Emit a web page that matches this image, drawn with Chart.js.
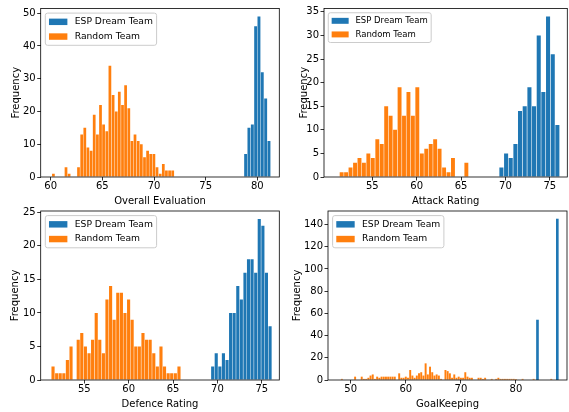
<!DOCTYPE html>
<html>
<head>
<meta charset="utf-8">
<script src="https://cdn.jsdelivr.net/npm/chart.js@4"></script>
<style>
html, body { margin: 0; padding: 0; background: #fff; width: 569px; height: 412px; overflow: hidden; }
body { position: relative; }
canvas { position: absolute; }
</style>
</head>
<body>
<canvas id="c1" width="285" height="206" style="left:0px;top:0px"></canvas>
<canvas id="c2" width="285" height="206" style="left:284px;top:0px"></canvas>
<canvas id="c3" width="285" height="208" style="left:0px;top:204px"></canvas>
<canvas id="c4" width="285" height="208" style="left:284px;top:204px"></canvas>
<script>
// ---------------- DATA ----------------
const seriesLabels = ['ESP Dream Team', 'Random Team'];

// Overall Evaluation
const overallRandomBins = [60.26, 61.48, 61.78, 62.69, 63.0, 63.3, 63.6, 63.91, 64.21, 64.52, 64.82, 65.12, 65.43, 65.73, 66.04, 66.34, 66.64, 66.95, 67.25, 67.56, 67.86, 68.16, 68.47, 68.77, 69.08, 69.38, 69.68, 69.99, 70.29, 70.6, 70.9, 71.2, 71.51, 71.81];
const overallRandomCounts = [1, 3, 1, 3, 13, 15, 9, 8, 19, 13, 22, 16, 14, 34, 25, 20, 26, 22, 28, 21, 11, 13, 11, 10, 6, 8, 7, 7, 3, 1, 4, 2, 2, 2];
const overallDreamBins = [78.87, 79.19, 79.52, 79.84, 80.16, 80.48, 80.81, 81.13];
const overallDreamCounts = [7, 15, 16, 46, 49, 32, 24, 11];
const overallXTicks = [60, 65, 70, 75, 80];
const overallYTicks = [0, 10, 20, 30, 40, 50];

// Attack Rating
const attackRandomBins = [51.54, 52.04, 52.54, 53.05, 53.55, 54.05, 54.55, 55.05, 55.56, 56.06, 56.56, 57.06, 57.56, 58.07, 58.57, 59.07, 59.57, 60.07, 60.58, 61.08, 61.58, 62.08, 62.58, 63.09, 63.59, 64.09, 65.6];
const attackRandomCounts = [1, 1, 2, 3, 4, 3, 5, 4, 8, 7, 15, 13, 10, 19, 13, 18, 13, 19, 5, 6, 7, 8, 6, 2, 1, 4, 3];
const attackDreamBins = [69.55, 70.08, 70.6, 71.13, 71.65, 72.18, 72.71, 73.23, 73.76, 74.28, 74.81, 75.34, 75.86];
const attackDreamCounts = [2, 5, 4, 7, 14, 15, 19, 15, 30, 18, 34, 26, 11];
const attackXTicks = [55, 60, 65, 70, 75];
const attackYTicks = [0, 5, 10, 15, 20, 25, 30, 35];

// Defence Rating
const defenceRandomBins = [51.47, 51.88, 52.28, 52.69, 53.09, 53.5, 54.31, 54.71, 55.12, 55.53, 55.93, 56.34, 56.74, 57.15, 57.55, 57.96, 58.36, 58.77, 59.18, 59.58, 59.99, 60.39, 60.8, 61.2, 61.61, 62.01, 62.42, 62.83, 63.23, 63.64, 64.04, 64.45, 64.85, 65.26, 65.67];
const defenceRandomCounts = [2, 1, 1, 1, 3, 5, 6, 7, 5, 4, 6, 10, 6, 4, 12, 14, 9, 13, 13, 10, 12, 9, 5, 5, 7, 6, 6, 4, 2, 5, 2, 1, 1, 1, 2];
const defenceDreamBins = [69.47, 69.87, 70.28, 70.68, 71.09, 71.49, 71.89, 72.3, 72.7, 73.11, 73.51, 73.91, 74.32, 74.72, 75.13, 75.53, 75.94];
const defenceDreamCounts = [2, 4, 2, 4, 3, 10, 10, 14, 12, 16, 18, 18, 16, 24, 23, 16, 8];
const defenceXTicks = [55, 60, 65, 70, 75];
const defenceYTicks = [0, 5, 10, 15, 20, 25];

// GoalKeeping
const gkRandomBins = [48.4, 50.8, 52.0, 52.4, 52.8, 53.2, 53.6, 54.0, 54.4, 54.8, 55.2, 55.6, 56.0, 56.4, 56.8, 57.2, 57.6, 58.0, 58.8, 59.2, 59.6, 60.0, 60.4, 60.8, 61.2, 61.6, 62.0, 62.4, 62.8, 63.2, 63.6, 64.0, 64.4, 64.8, 65.2, 65.6, 66.0, 66.4, 67.2, 67.6, 68.0, 68.4, 68.8, 69.2, 69.6, 70.0, 70.4, 70.8, 71.2, 71.6, 72.0, 73.2, 73.6, 74.0, 74.4, 75.6, 76.4, 76.8, 77.2, 77.6, 78.0, 78.4, 78.8, 79.2, 79.6, 80.0, 81.2, 83.2, 86.4];
const gkRandomCounts = [1, 3, 3, 1, 1, 2, 4, 5, 1, 3, 2, 3, 3, 3, 3, 3, 3, 3, 6, 2, 2, 3, 2, 9, 4, 2, 4, 6, 7, 4, 15, 5, 12, 7, 4, 5, 4, 1, 9, 8, 6, 2, 5, 2, 3, 2, 2, 7, 3, 2, 2, 2, 2, 1, 2, 1, 1, 2, 1, 1, 1, 1, 1, 1, 1, 1, 1, 1, 1];
const gkDreamBins = [83.9, 87.5];
const gkDreamCounts = [54, 145];
const gkXTicks = [50, 60, 70, 80];
const gkYTicks = [0, 20, 40, 60, 80, 100, 120, 140];

// ---------------- RENDERING ----------------
Chart.defaults.font.family = "'DejaVu Sans', sans-serif";
Chart.defaults.color = '#000';
const BLUE = '#1f77b4';
const ORANGE = '#ff7f0e';

const framePlugin = {
  id: 'frame',
  afterDatasetsDraw(chart) {
    const ctx = chart.ctx, a = chart.chartArea;
    ctx.save();
    ctx.strokeStyle = '#000';
    ctx.lineWidth = 0.8;
    ctx.strokeRect(a.left, a.top, a.right - a.left, a.bottom - a.top);
    ctx.restore();
  }
};

const legendPlugin = {
  id: 'mplLegend',
  afterDatasetsDraw(chart, args, opts) {
    const f = opts.fontSize || 9.2;
    const ctx = chart.ctx, a = chart.chartArea;
    const items = chart.data.datasets.map(d => ({ label: d.label, color: d.backgroundColor }));
    ctx.save();
    ctx.font = f + "px 'DejaVu Sans'";
    const tw = Math.max(...items.map(it => ctx.measureText(it.label).width));
    const pad = 0.4 * f, hl = 2 * f, hh = 0.7 * f, htp = 0.8 * f, rowH = 1.1 * f, ls = 0.5 * f;
    const bx = a.left + 0.5 * f, by = a.top + 0.5 * f;
    const bw = 2 * pad + hl + htp + tw;
    const bh = 2 * pad + items.length * rowH + (items.length - 1) * ls;
    ctx.beginPath();
    if (ctx.roundRect) ctx.roundRect(bx, by, bw, bh, 0.25 * f); else ctx.rect(bx, by, bw, bh);
    ctx.fillStyle = 'rgba(255,255,255,0.8)';
    ctx.fill();
    ctx.strokeStyle = '#cccccc';
    ctx.lineWidth = 1;
    ctx.stroke();
    items.forEach((it, i) => {
      const cy = by + pad + rowH / 2 + i * (rowH + ls);
      ctx.fillStyle = it.color;
      ctx.fillRect(bx + pad, cy - hh / 2, hl, hh);
      ctx.fillStyle = '#000';
      ctx.textBaseline = 'middle';
      ctx.textAlign = 'left';
      ctx.fillText(it.label, bx + pad + hl + htp, cy);
    });
    ctx.restore();
  }
};

function toPoints(xs, ys) {
  return xs.map((x, i) => ({ x: x, y: ys[i] }));
}

function makeChart(canvasId, s) {
  const tickFont = { size: 10, lineHeight: 1 };
  const gridOpts = { drawOnChartArea: false, drawTicks: true, tickLength: 3.5, color: '#000', lineWidth: 0.8, offset: false };
  const dreamSet = Object.assign({
    label: seriesLabels[0], data: toPoints(s.dreamX, s.dreamY), backgroundColor: BLUE,
    xAxisID: 'xb', yAxisID: 'y', grouped: false, barPercentage: 0.88, categoryPercentage: 1, borderWidth: 0
  }, s.dreamBar || {});
  const randSet = {
    label: seriesLabels[1], data: toPoints(s.randX, s.randY), backgroundColor: ORANGE,
    xAxisID: 'x', yAxisID: 'y', grouped: false, barPercentage: 0.88, categoryPercentage: 1, borderWidth: 0
  };
  return new Chart(document.getElementById(canvasId), {
    type: 'bar',
    data: { datasets: [dreamSet, randSet] },
    options: {
      responsive: false,
      animation: false,
      devicePixelRatio: 1,
      events: [],
      layout: { padding: s.pad },
      plugins: {
        legend: { display: false },
        tooltip: { enabled: false },
        mplLegend: { fontSize: s.legendFont }
      },
      scales: {
        x: {
          type: 'linear', position: 'bottom', min: s.xMin, max: s.xMax, offset: false,
          afterBuildTicks: sc => { sc.ticks = s.xTicks.map(v => ({ value: v })); },
          afterFit: sc => { sc.height = s.xH; },
          grid: gridOpts,
          border: { display: false },
          ticks: { font: tickFont, padding: 0.5, maxRotation: 0, minRotation: 0, autoSkip: false, color: '#000' },
          title: { display: true, text: s.xTitle, color: '#000', font: { size: 10, lineHeight: 1 }, padding: { top: 0, bottom: s.xTitlePad } }
        },
        xb: {
          type: 'linear', position: 'bottom', display: false, min: s.xMin, max: s.xMax, offset: false,
          grid: { offset: false }
        },
        y: {
          type: 'linear', position: 'left', min: 0, max: s.yMax,
          afterBuildTicks: sc => { sc.ticks = s.yTicks.map(v => ({ value: v })); },
          afterFit: sc => { sc.width = s.yW; },
          grid: gridOpts,
          border: { display: false },
          ticks: { font: tickFont, padding: 1.5, color: '#000' },
          title: { display: true, text: 'Frequency', color: '#000', font: { size: 10, lineHeight: 1 }, padding: { top: s.yTitlePad, bottom: 0 } }
        }
      }
    },
    plugins: [framePlugin, legendPlugin]
  });
}

makeChart('c1', {
  randX: overallRandomBins, randY: overallRandomCounts, dreamX: overallDreamBins, dreamY: overallDreamCounts,
  xTicks: overallXTicks, yTicks: overallYTicks, xTitle: 'Overall Evaluation',
  xMin: 59.03, xMax: 82.13, yMax: 51.45,
  pad: { left: 0, top: 8.5, right: 5.7, bottom: 0 }, yW: 40.7, xH: 29, xTitlePad: 0, yTitlePad: 11.2, legendFont: 9.2
});
makeChart('c2', {
  randX: attackRandomBins, randY: attackRandomCounts, dreamX: attackDreamBins, dreamY: attackDreamCounts,
  xTicks: attackXTicks, yTicks: attackYTicks, xTitle: 'Attack Rating',
  xMin: 49.55, xMax: 76.98, yMax: 35.7,
  pad: { left: 0, top: 8.5, right: 1.7, bottom: 0 }, yW: 40, xH: 29, xTitlePad: 0, yTitlePad: 15.7, legendFont: 8.5
});
makeChart('c3', {
  randX: defenceRandomBins, randY: defenceRandomCounts, dreamX: defenceDreamBins, dreamY: defenceDreamCounts,
  xTicks: defenceXTicks, yTicks: defenceYTicks, xTitle: 'Defence Rating',
  xMin: 50.08, xMax: 76.98, yMax: 25.2,
  pad: { left: 0, top: 7, right: 5.7, bottom: 3 }, yW: 40.7, xH: 29, xTitlePad: 0, yTitlePad: 10.7, legendFont: 9.2
});
makeChart('c4', {
  randX: gkRandomBins, randY: gkRandomCounts, dreamX: gkDreamBins, dreamY: gkDreamCounts,
  xTicks: gkXTicks, yTicks: gkYTicks, xTitle: 'GoalKeeping',
  xMin: 45.88, xMax: 89.26, yMax: 152.25,
  pad: { left: 0, top: 7, right: 2, bottom: 3 }, yW: 44, xH: 29, xTitlePad: 0, yTitlePad: 8.3, legendFont: 9.2,
  dreamBar: { barThickness: 2 }
});
</script>
</body>
</html>
